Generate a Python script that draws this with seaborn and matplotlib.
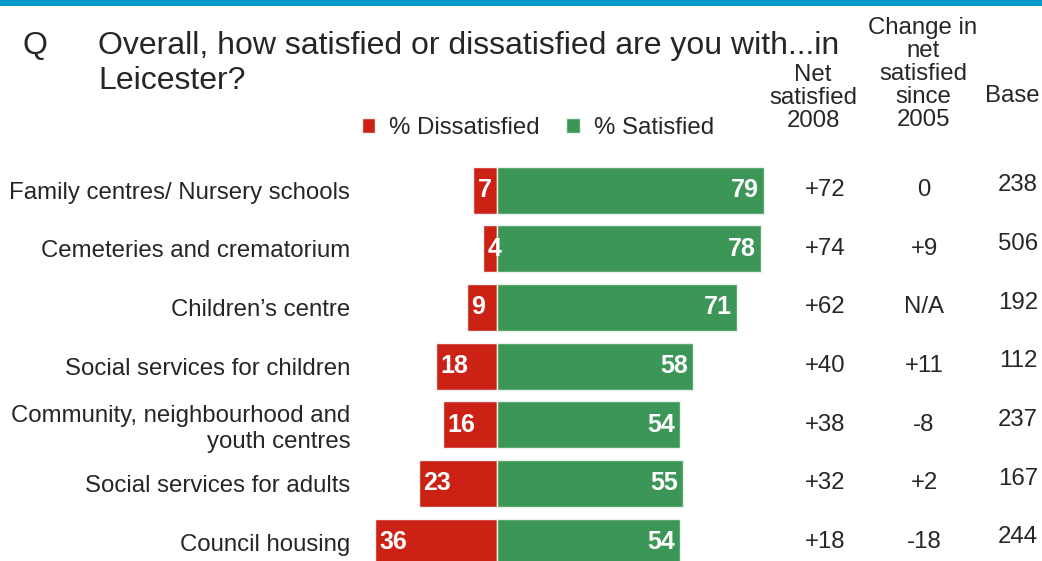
import matplotlib
matplotlib.use("Agg")
import matplotlib.pyplot as plt
from matplotlib.patches import Rectangle
from matplotlib.transforms import blended_transform_factory
import pandas as pd
import seaborn as sns

# Survey results: satisfaction with council services
categories = [
    "Family centres/ Nursery schools",
    "Cemeteries and crematorium",
    "Children\u2019s centre",
    "Social services for children",
    "Community, neighbourhood and\nyouth centres",
    "Social services for adults",
    "Council housing",
]
dissatisfied = [7, 4, 9, 18, 16, 23, 36]
satisfied = [79, 78, 71, 58, 54, 55, 54]
net_2008 = ["+72", "+74", "+62", "+40", "+38", "+32", "+18"]
change_since_2005 = ["0", "+9", "N/A", "+11", "-8", "+2", "-18"]
base = ["238", "506", "192", "112", "237", "167", "244"]
title_lines = ["Overall, how satisfied or dissatisfied are you with...in",
               "Leicester?"]

RED = "#CC2216"
GREEN = "#3C9657"
BLUE = "#0099CC"
TXT = "#262626"
FS = 17.3

sns.set_theme(style="white")
plt.rcParams["font.family"] = ["Liberation Sans", "DejaVu Sans"]

df = pd.DataFrame({
    "category": categories,
    "dissatisfied": [-v for v in dissatisfied],
    "satisfied": satisfied,
})

W, H = 1042, 561
fig = plt.figure(figsize=(W / 100, H / 100), dpi=100)

# axes placed so the zero line sits near the middle of the figure
ax_left, ax_right = 360, 1042
ax_top, ax_bottom = 160.7, 561
ax = fig.add_axes([ax_left / W, 1 - ax_bottom / H,
                   (ax_right - ax_left) / W, (ax_bottom - ax_top) / H])

sns.barplot(data=df, x="dissatisfied", y="category", color=RED, orient="h",
            width=0.8, saturation=1, edgecolor="#f4f4f4", linewidth=1,
            label="% Dissatisfied", ax=ax)
sns.barplot(data=df, x="satisfied", y="category", color=GREEN, orient="h",
            width=0.8, saturation=1, edgecolor="#e8f2ea", linewidth=1,
            label="% Satisfied", ax=ax)

scale = 3.38  # pixels per percentage point
zero_px = 497
ax.set_xlim(-(zero_px - ax_left) / scale, (ax_right - zero_px) / scale)
ax.set_ylim(-0.5 + (ax_bottom - ax_top) / 58.67, -0.5)

ax.set_xlabel("")
ax.set_ylabel("")
ax.set_xticks([])
ax.tick_params(axis="y", length=0, pad=7, labelsize=FS, labelcolor=TXT)
for lab in ax.get_yticklabels():
    lab.set_multialignment("right")
for s in ax.spines.values():
    s.set_visible(False)
if ax.legend_:
    ax.legend_.remove()

# value labels inside the bars
for i, (d, s) in enumerate(zip(dissatisfied, satisfied)):
    ax.annotate(str(d), xy=(-d, i), xytext=(3, 0), textcoords="offset points",
                ha="left", va="center", color="white", fontsize=18,
                fontweight="bold")
    ax.annotate(str(s), xy=(s, i), xytext=(-3.5, 0), textcoords="offset points",
                ha="right", va="center", color="white", fontsize=18,
                fontweight="bold")

# right-hand table columns
tr = blended_transform_factory(fig.transFigure, ax.transData)
for i in range(len(categories)):
    ax.text(825 / W, i, net_2008[i], transform=tr, ha="center", va="center",
            fontsize=FS, color=TXT)
    ax.text(924 / W, i, change_since_2005[i], transform=tr, ha="center",
            va="center", fontsize=FS, color=TXT)
    ax.text(1018 / W, i - 0.08, base[i], transform=tr, ha="center",
            va="center", fontsize=FS, color=TXT)

# column headers
fig.text(813 / W, 1 - 98 / H, "Net\nsatisfied\n2008", ha="center",
         va="center", fontsize=FS, color=TXT, linespacing=1.05)
fig.text(923 / W, 1 - 74 / H, "Change in\nnet\nsatisfied\nsince\n2005",
         ha="center", va="center", fontsize=FS, color=TXT, linespacing=1.05)
fig.text(1012 / W, 1 - 96 / H, "Base", ha="center", va="center",
         fontsize=FS, color=TXT)

# question title
fig.text(22 / W, 1 - 46 / H, "Q", ha="left", va="center", fontsize=23,
         color=TXT)
fig.text(98 / W, 1 - 46 / H, title_lines[0], ha="left", va="center",
         fontsize=23, color=TXT)
fig.text(98 / W, 1 - 81 / H, title_lines[1], ha="left", va="center",
         fontsize=23, color=TXT)

# legend
handles, labels = ax.get_legend_handles_labels()
fig.legend(handles[:2], labels[:2], loc="center",
           bbox_to_anchor=(538 / W, 1 - 128 / H), ncol=2, frameon=False,
           fontsize=FS, handlelength=0.55, handleheight=0.55, handletextpad=0.6,
           columnspacing=1.1, labelcolor=TXT)

# top rule
fig.add_artist(Rectangle((0, 1 - 6 / H), 1, 6 / H, transform=fig.transFigure,
                         facecolor=BLUE, edgecolor="none"))

fig.savefig("out.png", dpi=100)
